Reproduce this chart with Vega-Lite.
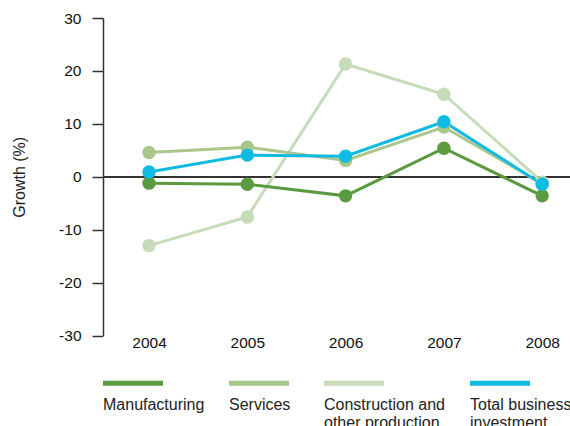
{
  "$schema": "https://vega.github.io/schema/vega-lite/v6.json",
  "autosize": "none",
  "width": 467,
  "height": 317.6,
  "padding": {"left": 103, "top": 18, "right": 0, "bottom": 90.4},
  "background": "white",
  "config": {
    "view": {"stroke": null},
    "font": "Liberation Sans"
  },
  "data": {
    "values": [
      {"series": "Construction and other production", "year": 2004, "growth": -13.0},
      {"series": "Construction and other production", "year": 2005, "growth": -7.6},
      {"series": "Construction and other production", "year": 2006, "growth": 21.3},
      {"series": "Construction and other production", "year": 2007, "growth": 15.6},
      {"series": "Construction and other production", "year": 2008, "growth": -1.0},
      {"series": "Services", "year": 2004, "growth": 4.6},
      {"series": "Services", "year": 2005, "growth": 5.6},
      {"series": "Services", "year": 2006, "growth": 3.1},
      {"series": "Services", "year": 2007, "growth": 9.4},
      {"series": "Services", "year": 2008, "growth": -1.3},
      {"series": "Manufacturing", "year": 2004, "growth": -1.2},
      {"series": "Manufacturing", "year": 2005, "growth": -1.4},
      {"series": "Manufacturing", "year": 2006, "growth": -3.6},
      {"series": "Manufacturing", "year": 2007, "growth": 5.4},
      {"series": "Manufacturing", "year": 2008, "growth": -3.6},
      {"series": "Total business investment", "year": 2004, "growth": 0.9},
      {"series": "Total business investment", "year": 2005, "growth": 4.1},
      {"series": "Total business investment", "year": 2006, "growth": 3.9},
      {"series": "Total business investment", "year": 2007, "growth": 10.4},
      {"series": "Total business investment", "year": 2008, "growth": -1.4}
    ]
  },
  "layer": [
    {
      "mark": {"type": "rule", "color": "#333333", "strokeWidth": 1.5},
      "encoding": {"y": {"datum": 0, "type": "quantitative"}}
    },
    {
      "mark": {"type": "line", "strokeWidth": 3, "point": {"filled": true, "size": 180, "opacity": 1}},
      "encoding": {
        "x": {
          "field": "year", "type": "quantitative",
          "scale": {"domain": [2003.532, 2008.283], "nice": false, "zero": false},
          "axis": {
            "title": null, "values": [2004, 2005, 2006, 2007, 2008], "format": "d",
            "domain": false, "ticks": false, "tickSize": 0, "grid": false,
            "labelFont": "Liberation Sans", "labelFontSize": 15.5, "labelColor": "#111111",
            "labelBaseline": "alphabetic", "labelPadding": 12, "labelFlush": false, "labelOverlap": false
          }
        },
        "y": {
          "field": "growth", "type": "quantitative",
          "scale": {"domain": [-30, 30], "nice": false},
          "axis": {
            "title": "Growth (%)", "values": [-30, -20, -10, 0, 10, 20, 30],
            "labelExpr": "'' + datum.value",
            "grid": false, "domainColor": "#333333", "domainWidth": 1.5,
            "tickColor": "#333333", "tickWidth": 1.5, "tickSize": 11,
            "labelFont": "Liberation Sans", "labelFontSize": 15.5, "labelColor": "#111111",
            "labelPadding": 11, "labelFlush": false, "labelOverlap": false,
            "titleFont": "Liberation Sans", "titleFontSize": 16, "titleFontWeight": "normal", "titleColor": "#222222",
            "titleX": -84, "titleY": 158.8, "titleAngle": -90, "titleAlign": "center", "titleBaseline": "middle"
          }
        },
        "color": {
          "field": "series", "type": "nominal",
          "scale": {
            "domain": ["Manufacturing", "Services", "Construction and other production", "Total business investment"],
            "range": ["#5b9a41", "#a9c78b", "#c6dbb8", "#10bbe2"]
          },
          "legend": {
            "title": null, "orient": "none", "legendX": -2.5, "legendY": 332.5,
            "direction": "horizontal", "columns": 4, "padding": 0,
            "symbolType": "stroke", "symbolSize": 3600, "symbolStrokeWidth": 5, "symbolOpacity": 1,
            "labelOffset": -62.5, "labelFont": "Liberation Sans", "labelFontSize": 16, "labelColor": "#222222",
            "labelLimit": 0, "columnPadding": 14, "labelBaseline": "top",
            "labelExpr": "datum.label == 'Construction and other production' ? ['Construction and', 'other production'] : datum.label == 'Total business investment' ? ['Total business', 'investment'] : [datum.label, ' ']",
            "encode": {"labels": {"update": {"dy": {"value": 14}}}}
          }
        }
      }
    }
  ]
}
